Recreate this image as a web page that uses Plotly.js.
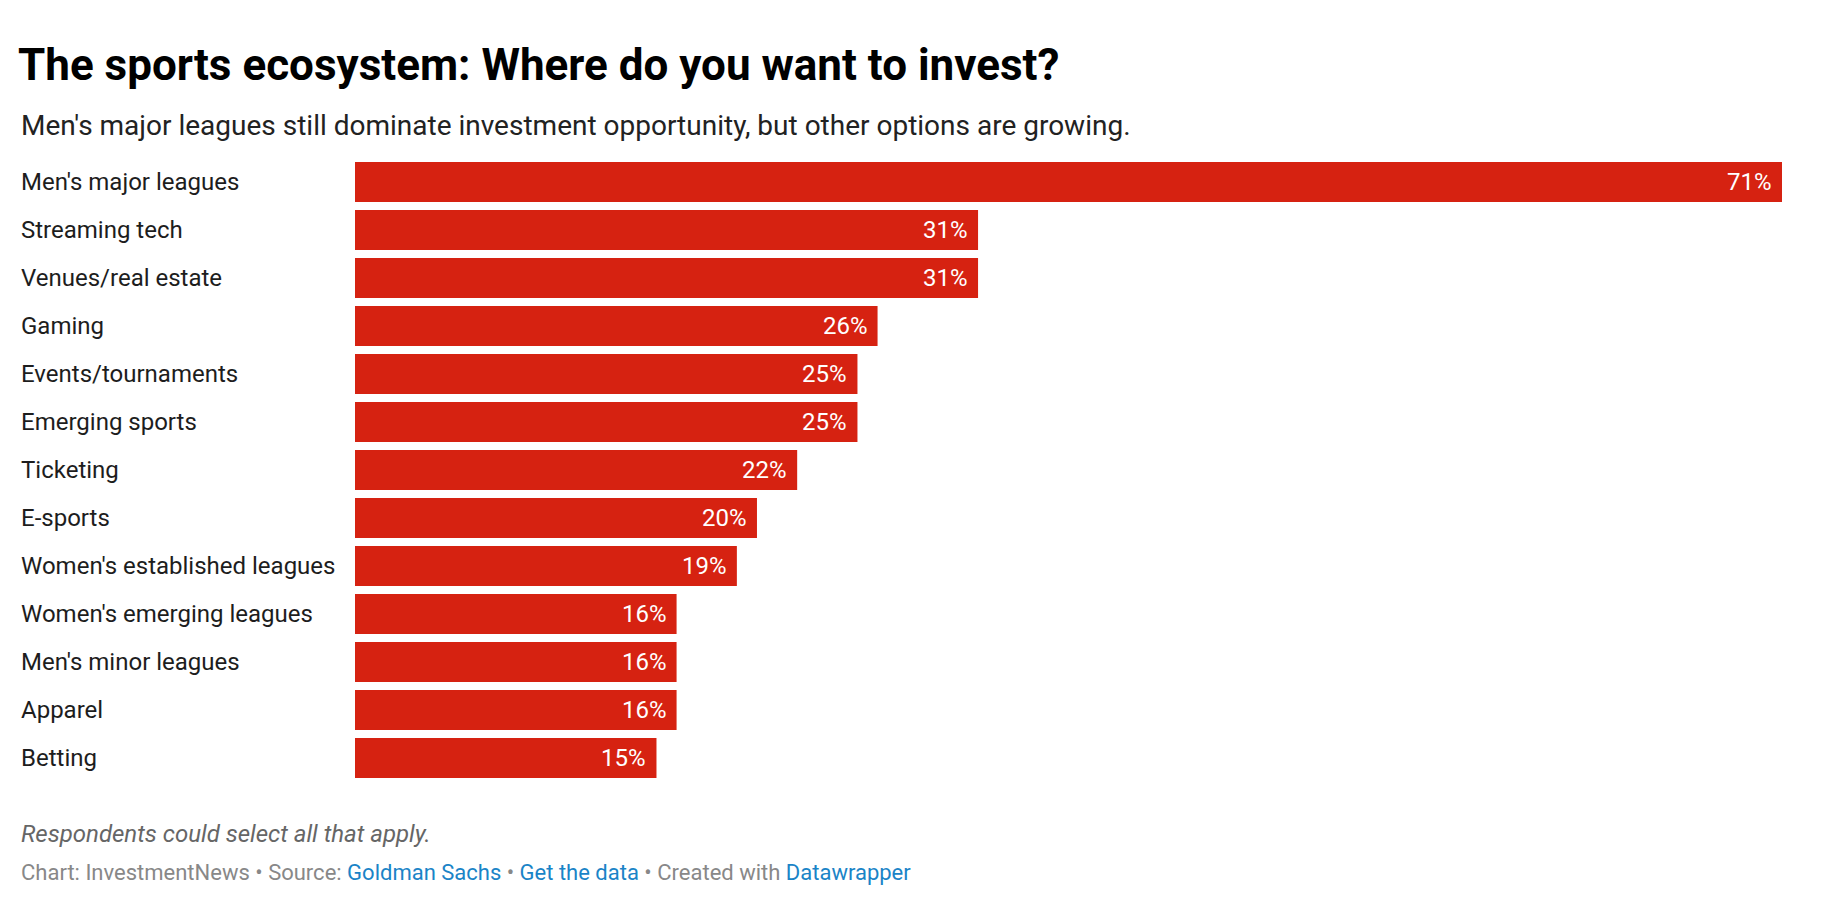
<!DOCTYPE html>
<html>
<head>
<meta charset="utf-8">
<script src="https://cdn.plot.ly/plotly-3.0.1.min.js"></script>
<style>
html,body{margin:0;padding:0;background:#fff;}
#chart{width:1828px;height:912px;}
</style>
</head>
<body>
<div id="chart"></div>
<script>
const categories = [
  "Men's major leagues",
  "Streaming tech",
  "Venues/real estate",
  "Gaming",
  "Events/tournaments",
  "Emerging sports",
  "Ticketing",
  "E-sports",
  "Women's established leagues",
  "Women's emerging leagues",
  "Men's minor leagues",
  "Apparel",
  "Betting"
];
const values = [71, 31, 31, 26, 25, 25, 22, 20, 19, 16, 16, 16, 15];

const titleText = "The sports ecosystem: Where do you want to invest?";
const subtitleText = "Men's major leagues still dominate investment opportunity, but other options are growing.";
const noteText = "Respondents could select all that apply.";
const creditParts = [
  {t: "Chart: InvestmentNews • Source: ", link: false},
  {t: "Goldman Sachs", link: true},
  {t: " • ", link: false},
  {t: "Get the data", link: true},
  {t: " • Created with ", link: false},
  {t: "Datawrapper", link: true}
];

const W = 1828, H = 912;
const plotL = 355, plotR = 1782, plotT = 158, plotB = 782;
const plotW = plotR - plotL, plotH = plotB - plotT;
const px2paperX = x => (x - plotL) / plotW;
const px2paperY = y => (plotB - y) / plotH;

const FONT = "Roboto, 'Noto Sans', Arial, sans-serif";
const BAR = "#d62211";
const GRAY = "#888888";
const LINK = "#1a84c7";

const annotations = [];

// category labels (left aligned)
categories.forEach((c) => {
  annotations.push({
    xref: 'paper', yref: 'y', x: px2paperX(19), y: c,
    xanchor: 'left', yanchor: 'middle', showarrow: false,
    text: c, font: {family: FONT, size: 24, color: '#1d1d1d'}
  });
});
// value labels inside bars
categories.forEach((c, i) => {
  annotations.push({
    xref: 'x', yref: 'y', x: values[i], y: c,
    xanchor: 'right', yanchor: 'middle', xshift: -8, showarrow: false,
    text: values[i] + '%', font: {family: FONT, size: 24, color: '#ffffff'}
  });
});
// subtitle
annotations.push({
  xref: 'paper', yref: 'paper', x: px2paperX(19), y: px2paperY(125.5),
  xanchor: 'left', yanchor: 'middle', showarrow: false,
  text: subtitleText, font: {family: FONT, size: 28, color: '#222222'}
});
// note
annotations.push({
  xref: 'paper', yref: 'paper', x: px2paperX(19), y: px2paperY(833.5),
  xanchor: 'left', yanchor: 'middle', showarrow: false,
  text: '<i>' + noteText + '</i>', font: {family: FONT, size: 24, color: '#666666'}
});
// credits
const creditsHtml = creditParts.map(p => p.link
  ? '<span style="color:' + LINK + '">' + p.t + '</span>'
  : p.t).join('');
annotations.push({
  xref: 'paper', yref: 'paper', x: px2paperX(19), y: px2paperY(872.5),
  xanchor: 'left', yanchor: 'middle', showarrow: false,
  text: creditsHtml, font: {family: FONT, size: 22, color: GRAY}
});

const trace = {
  type: 'bar', orientation: 'h',
  x: values, y: categories,
  marker: {color: BAR, line: {width: 0}},
  hoverinfo: 'skip'
};

const layout = {
  width: W, height: H,
  paper_bgcolor: '#ffffff', plot_bgcolor: '#ffffff',
  margin: {l: plotL, r: W - plotR, t: plotT, b: H - plotB, pad: 0},
  title: {
    text: titleText,
    font: {family: FONT, size: 44, color: '#000000', weight: 700},
    xref: 'container', yref: 'container',
    x: 18 / W, xanchor: 'left',
    y: 1 - 65 / H, yanchor: 'middle'
  },
  xaxis: {range: [0, 71], visible: false, fixedrange: true},
  yaxis: {type: 'category', categoryorder: 'array', categoryarray: categories,
          autorange: 'reversed', showticklabels: false, showgrid: false,
          zeroline: false, showline: false, ticks: '', fixedrange: true},
  bargap: 8 / 48,
  showlegend: false,
  annotations: annotations
};

Plotly.newPlot('chart', [trace], layout, {displayModeBar: false, staticPlot: true});
</script>
</body>
</html>
